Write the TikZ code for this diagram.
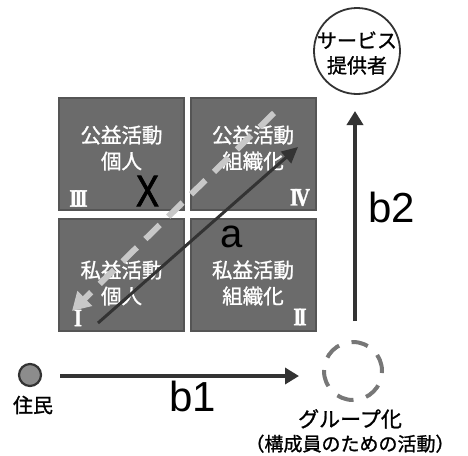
\documentclass[tikz,border=0pt]{standalone}
\usepackage{fontspec}
\setmainfont{Liberation Sans}
\newfontfamily\jp[FakeBold=1.2]{Noto Sans CJK JP}
\newfontfamily\numfont[FakeBold=1.5]{Liberation Serif}
\newfontfamily\heavysans[FakeBold=2]{Liberation Sans}
\usetikzlibrary{arrows.meta}
\definecolor{boxfill}{HTML}{6B6B6B}
\definecolor{boxline}{HTML}{555555}
\definecolor{darkline}{HTML}{333333}
\definecolor{lightdash}{HTML}{C8C8C8}
\definecolor{dashcirc}{HTML}{777777}
\definecolor{resfill}{HTML}{8C8C8C}
\newcommand{\nk}{\kern-0.14em}
\tikzset{
  quad/.style={draw=boxline, line width=2pt, fill=boxfill, minimum width=125pt, minimum height=112pt, inner sep=0pt},
  quadtext/.style={text=white, font=\jp\fontsize{20.5}{26}\selectfont, align=center},
  numeral/.style={text=white, font=\numfont\bfseries\fontsize{25}{25}\selectfont, inner sep=0pt},
  biglabel/.style={font=\fontsize{42}{42}\selectfont, inner sep=0pt},
  jptext/.style={font=\jp\fontsize{19}{24}\selectfont, align=center, inner sep=0pt},
  mainarrow/.style={draw=darkline, line width=4pt, -{Triangle[length=14pt,width=16pt]}},
}
\begin{document}
\begin{tikzpicture}[x=1pt,y=-1pt]
\useasboundingbox (0,0) rectangle (468,455);
% quadrants
\node[quad] (q3) at (121.5,154) {};
\node[quad] (q4) at (253,154) {};
\node[quad] (q1) at (121.5,275) {};
\node[quad] (q2) at (253,275) {};
\node[quadtext] (t3) at (121.5,148) {公益活動\\個人};
\node[quadtext] (t4) at (253,148) {公益活動\\組織化};
\node[quadtext] (t1) at (121.5,283) {私益活動\\個人};
\node[quadtext] (t2) at (253,283) {私益活動\\組織化};
\node[numeral] (n3) at (78.5,198.5) {\scalebox{0.82}[1]{I\nk I\nk I}};
\node[numeral] (n4) at (300,197.5) {\scalebox{0.82}[1]{I\nk V}};
\node[numeral] (n1) at (78,318) {\scalebox{0.82}[1]{I}};
\node[numeral] (n2) at (300,317) {\scalebox{0.82}[1]{I\nk I}};
% diagonal arrows
\coordinate (xs) at (274,113);
\coordinate (xe) at (72,311);
\draw[draw=lightdash, line width=6pt, dash pattern=on 20pt off 12pt, -{Triangle[length=18pt,width=20pt]}] (xs) -- (xe);
\coordinate (as) at (98,323);
\coordinate (ae) at (298,147);
\draw[draw=darkline, line width=3pt, -{Triangle[length=16pt,width=15pt]}] (as) -- (ae);
\node[font=\heavysans\fontsize{44}{44}\selectfont, inner sep=0pt] (lx) at (147.5,191) {\scalebox{0.78}[1]{X}};
\node[font=\fontsize{40}{40}\selectfont, inner sep=0pt] (la) at (231.5,237) {a};
% provider circle
\node[draw=darkline, line width=1.8pt, circle, minimum size=86pt, inner sep=0pt] (prov) at (357,51) {};
\node[jptext, font=\jp\fontsize{20}{25}\selectfont] (provt) at (357,53) {サービス\\提供者};
% group circle
\node[draw=dashcirc, line width=4pt, circle, minimum size=58pt, inner sep=0pt, dash pattern=on 17pt off 13pt] (grp) at (353,371) {};
\node[jptext] (grpt) at (350,431) {{\fontsize{21}{24}\selectfont グループ化}\\（構成員のための活動）};
% resident
\node[draw=darkline, line width=2.2pt, fill=resfill, circle, minimum size=22pt, inner sep=0pt] (res) at (30,375) {};
\node[jptext, font=\jp\fontsize{20}{24}\selectfont] (rest) at (33,405) {住民};
% b1, b2
\coordinate (b1s) at (60,376);
\coordinate (b1e) at (299,376);
\draw[mainarrow] (b1s) -- (b1e);
\node[biglabel] (lb1) at (192.5,396.5) {b1};
\coordinate (b2s) at (355,321);
\coordinate (b2e) at (355,111);
\draw[mainarrow] (b2s) -- (b2e);
\node[biglabel] (lb2) at (392,207.5) {b2};
\end{tikzpicture}
\end{document}
